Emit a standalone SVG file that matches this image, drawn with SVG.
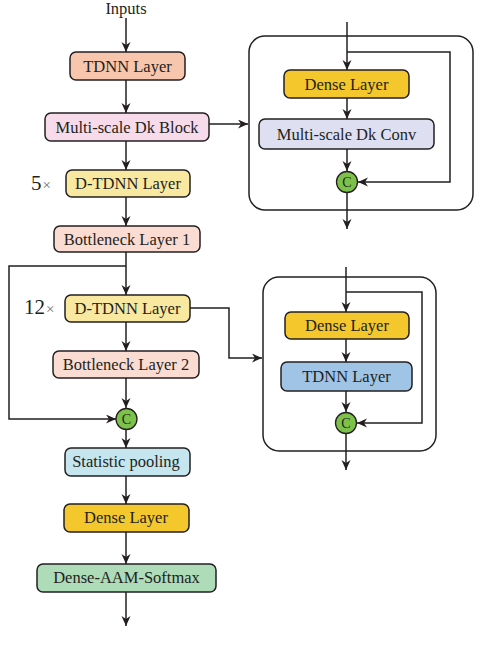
<svg xmlns="http://www.w3.org/2000/svg" width="502" height="660" viewBox="0 0 502 660">
<defs>
<marker id="ah" markerWidth="11" markerHeight="10" refX="10" refY="4.5" orient="auto" markerUnits="userSpaceOnUse">
<path d="M0,0 L10,4.5 L0,9 L3,4.5 z" fill="#231f20"/>
</marker>
<style>
.box{stroke:#231f20;stroke-width:1.5}
.lbl{font-family:"Liberation Serif","Times New Roman",serif;font-size:16.5px;fill:#231f20;text-anchor:middle}
.con{fill:none;stroke:#231f20;stroke-width:1.5}
.arr{fill:none;stroke:#231f20;stroke-width:1.5;marker-end:url(#ah)}
.outer{fill:none;stroke:#231f20;stroke-width:1.5}
.circ{fill:#7cc24a;stroke:#231f20;stroke-width:1.3}
.c{font-family:"Liberation Serif","Times New Roman",serif;font-size:14px;fill:#231f20;text-anchor:middle}
.mul{font-family:"Liberation Serif","Times New Roman",serif;font-size:21px;fill:#231f20}
.x{fill:#6d6e71;font-size:15px}
</style>
</defs>
<rect width="502" height="660" fill="#ffffff"/>

<g id="outer-box-1"><rect class="outer" x="249" y="36" width="224" height="174" rx="16"/></g>
<g id="outer-box-2"><rect class="outer" x="263" y="277" width="173" height="174" rx="16"/></g>

<g id="connectors">
<path class="arr" d="M126,18 V52"/>
<path class="arr" d="M126,80 V113"/>
<path class="arr" d="M209,124 H248"/>
<path class="arr" d="M126,141 V170"/>
<path class="arr" d="M126,197 V226"/>
<path class="arr" d="M126,252 V295"/>
<path class="arr" d="M126,266 H9 V419 H116"/>
<path class="arr" d="M190,308 H229 V358 H262"/>
<path class="arr" d="M126,322 V351"/>
<path class="arr" d="M126,378 V408"/>
<path class="arr" d="M126,430 V448"/>
<path class="arr" d="M126,476 V504"/>
<path class="arr" d="M126,532 V564"/>
<path class="arr" d="M126,592 V626"/>
<path class="arr" d="M347,22 V70"/>
<path class="arr" d="M347,52 H450 V182 H358"/>
<path class="arr" d="M347,98 V119"/>
<path class="arr" d="M347,149 V171"/>
<path class="arr" d="M347,193 V229"/>
<path class="arr" d="M346,267 V312"/>
<path class="arr" d="M346,292 H422 V423 H357"/>
<path class="arr" d="M346,339 V362"/>
<path class="arr" d="M346,391 V412"/>
<path class="arr" d="M346,434 V470"/>
</g>

<g id="inputs"><text class="lbl" x="126" y="14">Inputs</text></g>

<g id="tdnn-layer"><rect class="box" x="70" y="52" width="115" height="28" rx="6" fill="#f8c5ad"/><text class="lbl" x="127.5" y="71.5">TDNN Layer</text></g>
<g id="ms-dk-block"><rect class="box" x="45" y="113" width="164" height="28" rx="6" fill="#f7dbea"/><text class="lbl" x="127" y="132.5">Multi-scale Dk Block</text></g>
<g id="dtdnn-5"><rect class="box" x="66" y="170" width="124" height="27" rx="6" fill="#f9e8a0"/><text class="lbl" x="128" y="189">D-TDNN Layer</text>
<text class="mul" x="31" y="190">5<tspan class="x" dx="1">×</tspan></text></g>
<g id="bottleneck-1"><rect class="box" x="54" y="226" width="146" height="26" rx="6" fill="#fadcd3"/><text class="lbl" x="127" y="244.5">Bottleneck Layer 1</text></g>
<g id="dtdnn-12"><rect class="box" x="65" y="295" width="125" height="27" rx="6" fill="#f9e8a0"/><text class="lbl" x="127.5" y="314">D-TDNN Layer</text>
<text class="mul" x="24" y="314">12<tspan class="x" dx="1">×</tspan></text></g>
<g id="bottleneck-2"><rect class="box" x="53" y="351" width="146" height="27" rx="6" fill="#fadcd3"/><text class="lbl" x="126" y="370">Bottleneck Layer 2</text></g>
<g id="concat-main"><circle class="circ" cx="126.5" cy="419" r="10.5"/><text class="c" x="126.5" y="424">C</text></g>
<g id="stat-pool"><rect class="box" x="65" y="448" width="125" height="28" rx="6" fill="#c5e5ef"/><text class="lbl" x="126" y="466.5">Statistic pooling</text></g>
<g id="dense-main"><rect class="box" x="64" y="504" width="125" height="28" rx="6" fill="#f4c72d"/><text class="lbl" x="126" y="523">Dense Layer</text></g>
<g id="aam-softmax"><rect class="box" x="37" y="564" width="179" height="28" rx="6" fill="#aedbb8"/><text class="lbl" x="126.5" y="583">Dense-AAM-Softmax</text></g>

<g id="dense-b1"><rect class="box" x="284" y="70" width="125" height="28" rx="6" fill="#f4c72d"/><text class="lbl" x="346.5" y="89.5">Dense Layer</text></g>
<g id="ms-dk-conv"><rect class="box" x="259" y="119" width="175" height="30" rx="6" fill="#dedff1"/><text class="lbl" x="346.5" y="139.5">Multi-scale Dk Conv</text></g>
<g id="concat-b1"><circle class="circ" cx="347" cy="182" r="10.5"/><text class="c" x="347" y="187">C</text></g>

<g id="dense-b2"><rect class="box" x="285" y="312" width="124" height="27" rx="6" fill="#f4c72d"/><text class="lbl" x="347" y="331">Dense Layer</text></g>
<g id="tdnn-b2"><rect class="box" x="281" y="362" width="131" height="29" rx="6" fill="#9fc4e6"/><text class="lbl" x="346.5" y="382">TDNN Layer</text></g>
<g id="concat-b2"><circle class="circ" cx="346" cy="423" r="10.5"/><text class="c" x="346" y="428">C</text></g>
</svg>
